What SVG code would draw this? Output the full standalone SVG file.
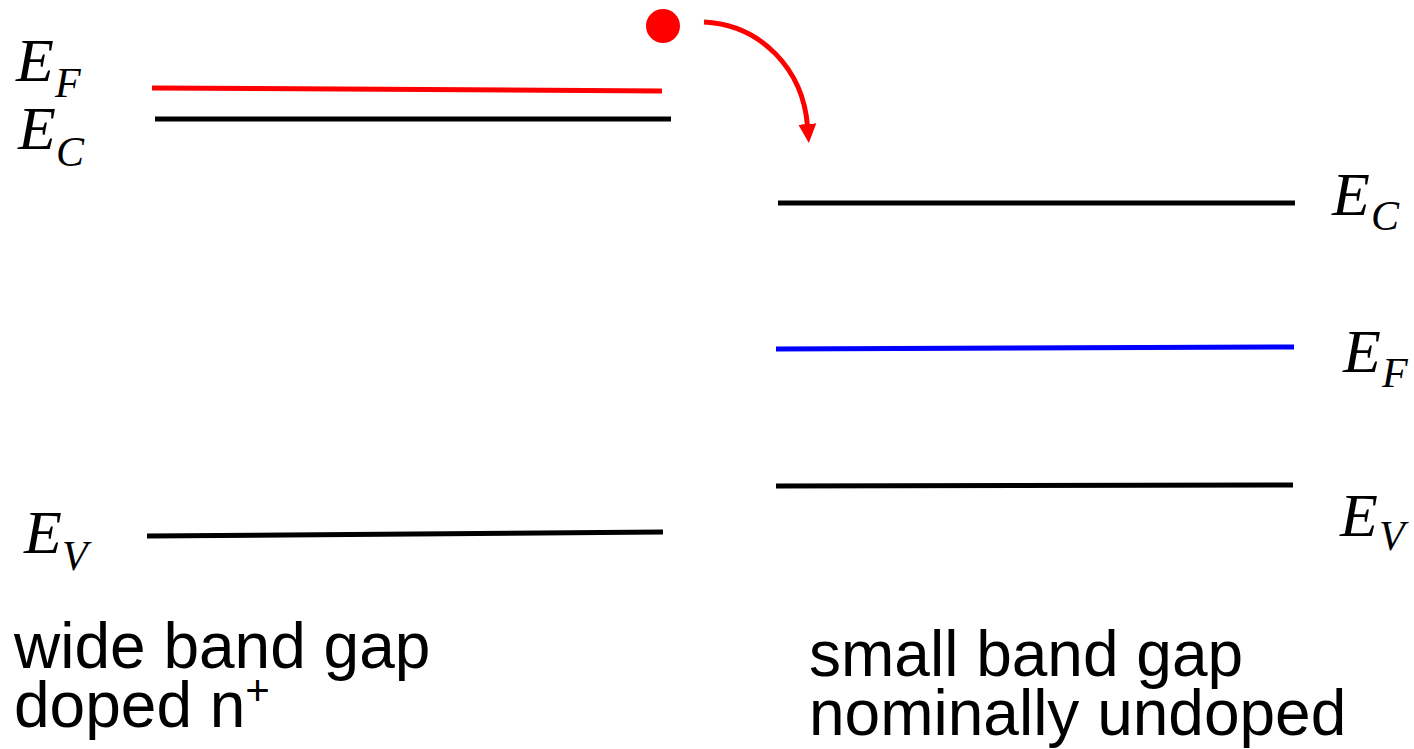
<svg xmlns="http://www.w3.org/2000/svg" width="1414" height="749" viewBox="0 0 1414 749">
<style>
.lvl{stroke-width:5;fill:none}
.e{font-family:"Liberation Serif",serif;font-style:italic;font-size:62px;fill:#000}
.s{font-family:"Liberation Serif",serif;font-style:italic;font-size:42px;fill:#000}
.t{font-family:"Liberation Sans",Arial,sans-serif;font-size:64px;fill:#000}
</style>
<defs>
<marker id="ah" markerUnits="userSpaceOnUse" markerWidth="26" markerHeight="26" viewBox="0 0 26 26" refX="2" refY="13" orient="auto">
<path d="M0,4 L19,13 L0,22 Z" fill="#f00"/>
</marker>
</defs>
<rect width="1414" height="749" fill="#fff"/>
<g id="left-EF"><line class="lvl" x1="152" y1="88" x2="662" y2="91" stroke="#f00"/><text class="e" x="16" y="81">E</text><text class="s" x="55" y="97">F</text></g>
<g id="left-EC"><line class="lvl" x1="155" y1="119" x2="671" y2="119" stroke="#000"/><text class="e" x="18" y="149">E</text><text class="s" x="56" y="166">C</text></g>
<g id="left-EV"><line class="lvl" x1="147" y1="536" x2="663" y2="532" stroke="#000"/><text class="e" x="24" y="553">E</text><text class="s" x="62" y="570">V</text></g>
<g id="right-EC"><line class="lvl" x1="778" y1="203" x2="1295" y2="203" stroke="#000"/><text class="e" x="1332" y="215">E</text><text class="s" x="1371" y="230">C</text></g>
<g id="right-EF"><line class="lvl" x1="776" y1="349" x2="1294" y2="347" stroke="#00f"/><text class="e" x="1343" y="372">E</text><text class="s" x="1382" y="387">F</text></g>
<g id="right-EV"><line class="lvl" x1="776" y1="486" x2="1293" y2="485" stroke="#000"/><text class="e" x="1340" y="536">E</text><text class="s" x="1379" y="550">V</text></g>
<g id="electron"><circle cx="663" cy="26" r="17" fill="#f00"/></g>
<g id="connectors"><path d="M704,22 C762,25 803,70 807.5,126" stroke="#f00" stroke-width="5" fill="none" marker-end="url(#ah)"/></g>
<g id="left-label"><text class="t" x="14" y="668">wide band gap<tspan x="14" dy="59">doped n</tspan><tspan font-size="42" dy="-22">+</tspan></text></g>
<g id="right-label"><text class="t" x="809" y="676">small band gap<tspan x="809" dy="59">nominally undoped</tspan></text></g>
</svg>
